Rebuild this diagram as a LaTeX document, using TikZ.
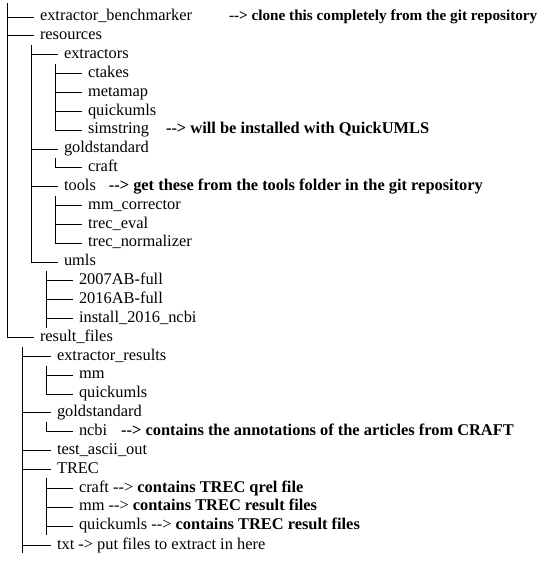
\documentclass[tikz,border=0pt]{standalone}
\usepackage{fontspec}
\setmainfont{Liberation Serif}
\usetikzlibrary{positioning}
\newcommand\remark[1]{{\bfseries #1}}
\tikzset{
  entry/.style={anchor=west, inner xsep=6pt, inner ysep=0pt, outer sep=0pt,
    text height=11pt, text depth=3.5pt, font=\fontsize{16.4}{19}\selectfont},
  note/.style={entry, inner xsep=0pt, font=\fontsize{16.4}{19}\selectfont\bfseries},
  twig/.style={draw, line width=0.9pt, -}
}
\begin{document}
\begin{tikzpicture}[x=1pt,y=-1pt]
\useasboundingbox (0,0) rectangle (555,574);

\coordinate (r0) at (7,3);
\node[entry] (bench) at (34,17) {extractor\_benchmarker};
\node[note,right=31pt of bench,font=\fontsize{15.2}{18}\selectfont\bfseries] (benchnote) {{-}{-}> clone this completely from the git repository};
\path[twig] (r0) |- (bench.west);
\node[entry] (res) at (34,35.9) {resources};
\path[twig] (r0) |- (res.west);
\node[entry] (resfiles) at (34,337.5) {result\_files};
\path[twig] (r0) |- (resfiles.west);

\coordinate (r1) at (31,45);
\node[entry] (extr) at (58,54.7) {extractors};
\path[twig] (r1) |- (extr.west);
\node[entry] (gold) at (58,149) {goldstandard};
\path[twig] (r1) |- (gold.west);
\node[entry] (tools) at (58,186.7) {tools};
\node[note,right=7pt of tools] (toolsnote) {{-}{-}> get these from the tools folder in the git repository};
\path[twig] (r1) |- (tools.west);
\node[entry] (umls) at (58,262.1) {umls};
\path[twig] (r1) |- (umls.west);

\coordinate (r2) at (55,64);
\node[entry] (ctakes) at (82,73.6) {ctakes};
\path[twig] (r2) |- (ctakes.west);
\node[entry] (metamap) at (82,92.4) {metamap};
\path[twig] (r2) |- (metamap.west);
\node[entry] (quick) at (82,111.3) {quickumls};
\path[twig] (r2) |- (quick.west);
\node[entry] (simstr) at (82,130.1) {simstring};
\node[note,right=11pt of simstr] (simnote) {{-}{-}> will be installed with QuickUMLS};
\path[twig] (r2) |- (simstr.west);

\coordinate (r3) at (55,158);
\node[entry] (craft) at (82,167.8) {craft};
\path[twig] (r3) |- (craft.west);

\coordinate (r4) at (55,196);
\node[entry] (mmcorr) at (82,205.5) {mm\_corrector};
\path[twig] (r4) |- (mmcorr.west);
\node[entry] (treceval) at (82,224.4) {trec\_eval};
\path[twig] (r4) |- (treceval.west);
\node[entry] (trecnorm) at (82,243.2) {trec\_normalizer};
\path[twig] (r4) |- (trecnorm.west);

\coordinate (r5) at (46,271);
\coordinate (r5end) at (46,328);
\node[entry] (ab07) at (73,280.9) {2007AB-full};
\path[twig] (r5) |- (ab07.west);
\node[entry] (ab16) at (73,299.8) {2016AB-full};
\path[twig] (r5) |- (ab16.west);
\node[entry] (install) at (73,318.6) {install\_2016\_ncbi};
\path[twig] (r5) |- (install.west);
\path[twig] (r5) -- (r5end);

\coordinate (r6) at (22,347);
\coordinate (r6end) at (22,553);
\node[entry] (extres) at (51,356.3) {extractor\_results};
\path[twig] (r6) |- (extres.west);
\node[entry] (gold2) at (51,412.9) {goldstandard};
\path[twig] (r6) |- (gold2.west);
\node[entry] (ascii) at (51,450.6) {test\_ascii\_out};
\path[twig] (r6) |- (ascii.west);
\node[entry] (trec) at (51,469.4) {TREC};
\path[twig] (r6) |- (trec.west);
\node[entry] (txt) at (51,545.5) {txt -{}> put files to extract in here};
\path[twig] (r6) |- (txt.west);
\path[twig] (r6) -- (r6end);

\coordinate (r7) at (46,366);
\node[entry] (mm) at (73,375.2) {mm};
\path[twig] (r7) |- (mm.west);
\node[entry] (quick2) at (73,394) {quickumls};
\path[twig] (r7) |- (quick2.west);

\coordinate (r8) at (46,422);
\node[entry] (ncbi) at (73,431.7) {ncbi};
\node[note,right=8pt of ncbi] (ncbinote) {{-}{-}> contains the annotations of the articles from CRAFT};
\path[twig] (r8) |- (ncbi.west);

\coordinate (r9) at (46,478);
\coordinate (r9end) at (46,535);
\node[entry] (craft2) at (73,488.3) {craft {-}{-}> \remark{contains TREC qrel file}};
\path[twig] (r9) |- (craft2.west);
\node[entry] (mm2) at (73,507.1) {mm {-}{-}> \remark{contains TREC result files}};
\path[twig] (r9) |- (mm2.west);
\node[entry] (quick3) at (73,526) {quickumls {-}{-}> \remark{contains TREC result files}};
\path[twig] (r9) |- (quick3.west);
\path[twig] (r9) -- (r9end);
\end{tikzpicture}
\end{document}
